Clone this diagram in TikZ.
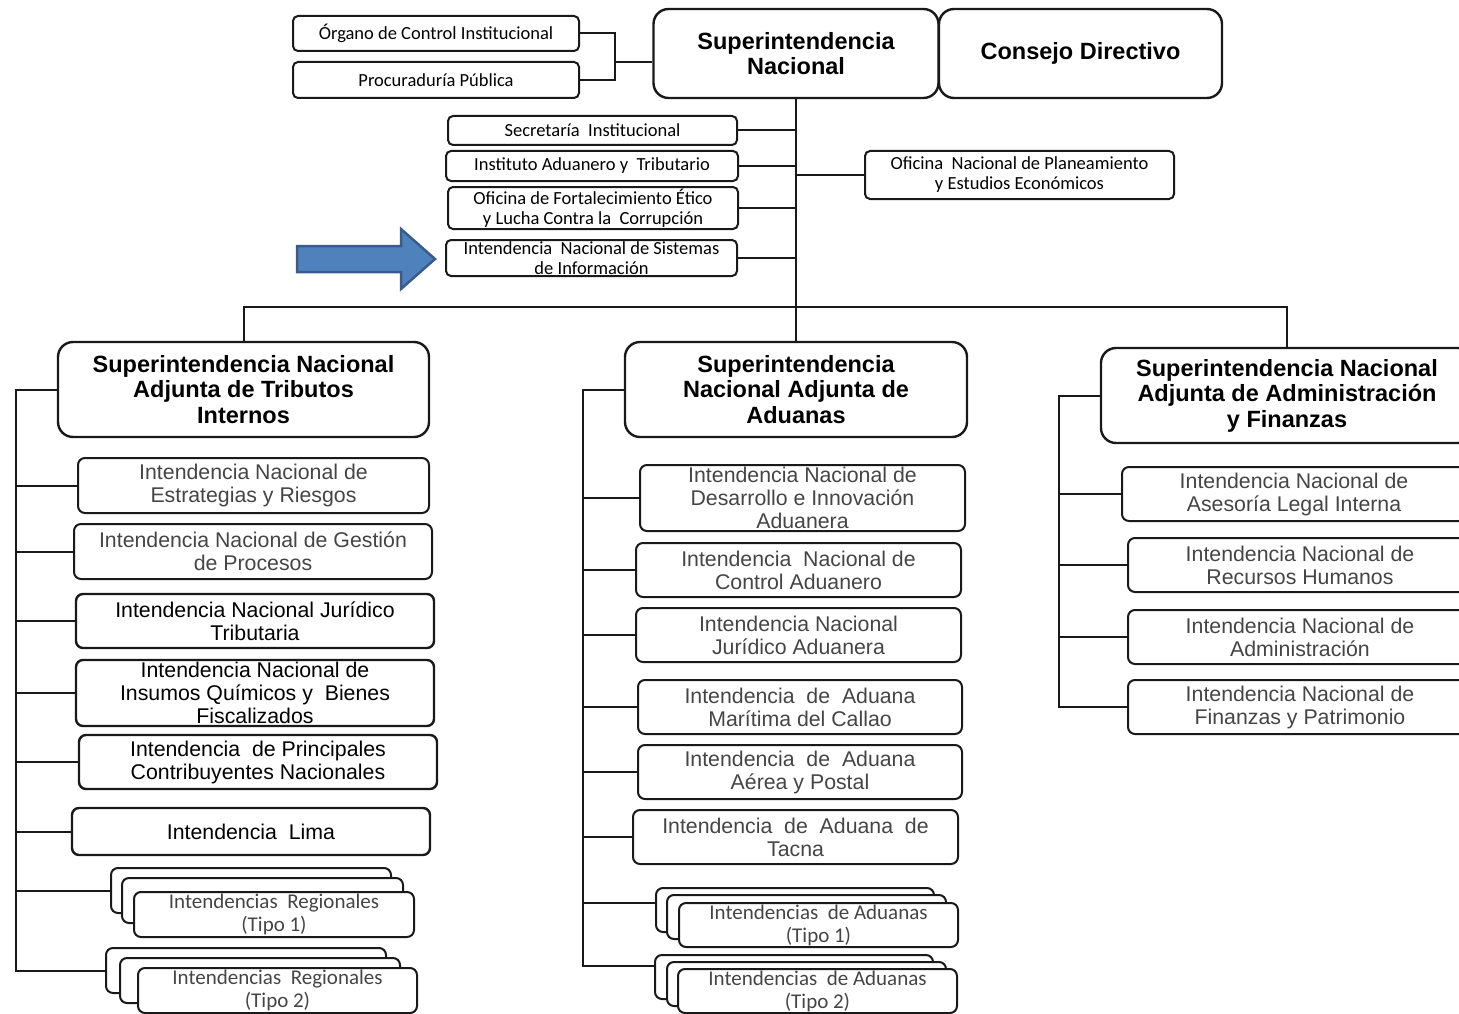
\documentclass[tikz,border=0pt]{standalone}
\usepackage{fontspec}
\setmainfont{Liberation Sans}
\newfontfamily\calib{Carlito}
\usetikzlibrary{calc}
\definecolor{txtgray}{HTML}{454545}
\definecolor{arrowfill}{HTML}{4F81BD}
\definecolor{arrowline}{HTML}{385D8A}

\begin{document}
\begin{tikzpicture}[x=1pt,y=-1pt,
  wh/.style 2 args={minimum width=#1pt,minimum height=#2pt},
  orgbox/.style={draw=black!90,line width=2pt,rounded corners=7pt,fill=white,align=center,inner sep=0pt},
  headbox/.style={orgbox,line width=2.4pt,rounded corners=15pt,font=\bfseries\fontsize{23.5}{25.5}\selectfont},
  unitbox/.style={orgbox,text=txtgray,font=\fontsize{21.3}{23}\selectfont},
  darkunit/.style={unitbox,text=black,line width=2.4pt},
  smallbox/.style={orgbox,rounded corners=5pt,font=\calib\fontsize{18.5}{20}\selectfont},
  stackbox/.style={orgbox,text=txtgray,font=\calib\fontsize{21}{23}\selectfont},
  link/.style={line width=2pt,draw=black!90}]
\useasboundingbox (0,0) rectangle (1459,1014);

% top level
\node[headbox,wh={285}{89}] (sn) at (796,53.5) {Superintendencia\\Nacional};
\node[headbox,wh={283}{89}] (cd) at (1080.5,53.5) {Consejo Directivo};
\node[smallbox,wh={286}{35}] (oci) at (436,33.5) {Órgano de Control Institucional};
\node[smallbox,wh={286}{36}] (procu) at (436,80) {Procuraduría Pública};
\coordinate (brk) at (615,62);
\draw[link] (oci.east) -| (brk |- procu.east) -- (procu.east);
\draw[link] (brk) -- (brk -| sn.west);

% staff offices
\node[smallbox,wh={289}{29}] (secr) at (592.5,130.5) {Secretaría~ Institucional};
\node[smallbox,wh={292}{30}] (iat) at (592,166) {Instituto Aduanero y~ Tributario};
\node[smallbox,wh={290}{42}] (ofe) at (593,208) {Oficina de Fortalecimiento Ético\\y Lucha Contra la~ Corrupción};
\node[smallbox,wh={291}{36}] (insi) at (591.5,258) {Intendencia~ Nacional de Sistemas\\de Información};
\node[smallbox,wh={309}{48}] (onpe) at (1019.5,175) {Oficina~ Nacional de Planeamiento\\y Estudios Económicos};
\foreach \n in {secr,iat,ofe,insi}
  \draw[link] (\n.east) -- (\n.east -| sn.south);
\draw[link] (onpe.west) -- (onpe.west -| sn.south);

% pointer
\draw[arrowline,fill=arrowfill,line width=2.5pt,line join=miter]
  (297,246) -- (401,246) -- (401,229) -- (435,259) -- (401,289) -- (401,272) -- (297,272) -- cycle;

% deputy offices
\node[headbox,wh={371}{95}] (snti) at (243.5,389.5) {Superintendencia Nacional\\Adjunta de Tributos\\Internos};
\node[headbox,wh={342}{95}] (snaa) at (796,389.5) {Superintendencia\\Nacional Adjunta de\\Aduanas};
\node[headbox,wh={372}{95}] (snaf) at (1287,395.5) {Superintendencia Nacional\\Adjunta de Administración\\y Finanzas};
\coordinate (bar) at (796,307);
\draw[link] (sn.south) -- (snaa.north);
\draw[link] (snti.north) -- (snti.north |- bar) -- (snaf.north |- bar) -- (snaf.north);

% internal taxes
\node[unitbox,wh={351}{55}] (c1) at (253.5,485.5) {Intendencia Nacional de\\Estrategias y Riesgos};
\node[unitbox,wh={358}{55}] (c2) at (253,551.5) {Intendencia Nacional de Gestión\\de Procesos};
\node[darkunit,wh={358}{54}] (c3) at (255,621) {Intendencia Nacional Jurídico\\Tributaria};
\node[darkunit,wh={358}{66}] (c4) at (255,693) {Intendencia Nacional de\\Insumos Químicos y~ Bienes\\Fiscalizados};
\node[darkunit,wh={358}{54}] (c5) at (258,762) {Intendencia~ de Principales\\Contribuyentes Nacionales};
\node[darkunit,wh={358}{47}] (c6) at (251,831.5) {Intendencia~ Lima};
\node[stackbox,wh={280}{45}] (reg1a) at (251,890.5) {};
\node[stackbox,wh={281}{45}] (reg1b) at (262.5,900.5) {};
\node[stackbox,wh={280}{45}] (reg1c) at (274,914.5) {Intendencias~ Regionales\\(Tipo 1)};
\node[stackbox,wh={280}{45}] (reg2a) at (246,970.5) {};
\node[stackbox,wh={280}{45}] (reg2b) at (260,980.5) {};
\node[stackbox,wh={279}{45}] (reg2c) at (277.5,990.5) {Intendencias~ Regionales\\(Tipo 2)};
\coordinate (ta) at (16,0);
\draw[link] (snti.west) -- (snti.west -| ta) -- (ta |- reg2a.west) -- (reg2a.west);
\foreach \n in {c1,c2,c3,c4,c5,c6,reg1a}
  \draw[link] (\n.west) -- (\n.west -| ta);

% customs
\node[unitbox,wh={325}{66}] (d1) at (802.5,498) {Intendencia Nacional de\\Desarrollo e Innovación\\Aduanera};
\node[unitbox,wh={325}{54}] (d2) at (798.5,570) {Intendencia~ Nacional de\\Control Aduanero};
\node[unitbox,wh={325}{54}] (d3) at (798.5,635) {Intendencia Nacional\\Jurídico Aduanera};
\node[unitbox,wh={324}{54}] (d4) at (800,707) {Intendencia~ de~ Aduana\\Marítima del Callao};
\node[unitbox,wh={324}{54}] (d5) at (800,772) {Intendencia~ de~ Aduana\\Aérea y Postal};
\node[unitbox,wh={325}{54}] (d6) at (795.5,837) {Intendencia~ de~ Aduana~ de\\Tacna};
\node[stackbox,wh={278}{44}] (adu1a) at (795,910) {};
\node[stackbox,wh={279}{44}] (adu1b) at (806.5,917) {};
\node[stackbox,wh={279}{44}] (adu1c) at (818.5,925) {Intendencias~ de Aduanas\\(Tipo 1)};
\node[stackbox,wh={278}{44}] (adu2a) at (794,977) {};
\node[stackbox,wh={279}{44}] (adu2b) at (806.5,984) {};
\node[stackbox,wh={279}{44}] (adu2c) at (817.5,991) {Intendencias~ de Aduanas\\(Tipo 2)};
\coordinate (tb) at (583,0);
\coordinate (adu1p) at ($(adu1a.north west)!0.35!(adu1a.south west)$);
\coordinate (adu2p) at ($(adu2a.north west)!0.25!(adu2a.south west)$);
\draw[link] (snaa.west) -- (snaa.west -| tb) -- (tb |- adu2p) -- (adu2p);
\foreach \n in {d1,d2,d3,d4,d5,d6}
  \draw[link] (\n.west) -- (\n.west -| tb);
\draw[link] (adu1p) -- (adu1p -| tb);

% administration and finance
\node[unitbox,wh={344}{54}] (f1) at (1294,494) {Intendencia Nacional de\\Asesoría Legal Interna};
\node[unitbox,wh={344}{54}] (f2) at (1300,565) {Intendencia Nacional de\\Recursos Humanos};
\node[unitbox,wh={344}{54}] (f3) at (1300,637) {Intendencia Nacional de\\Administración};
\node[unitbox,wh={344}{54}] (f4) at (1300,707) {Intendencia Nacional de\\Finanzas y Patrimonio};
\coordinate (tc) at (1059,0);
\draw[link] (snaf.west) -- (snaf.west -| tc) -- (tc |- f4.west) -- (f4.west);
\foreach \n in {f1,f2,f3}
  \draw[link] (\n.west) -- (\n.west -| tc);
\end{tikzpicture}
\end{document}
